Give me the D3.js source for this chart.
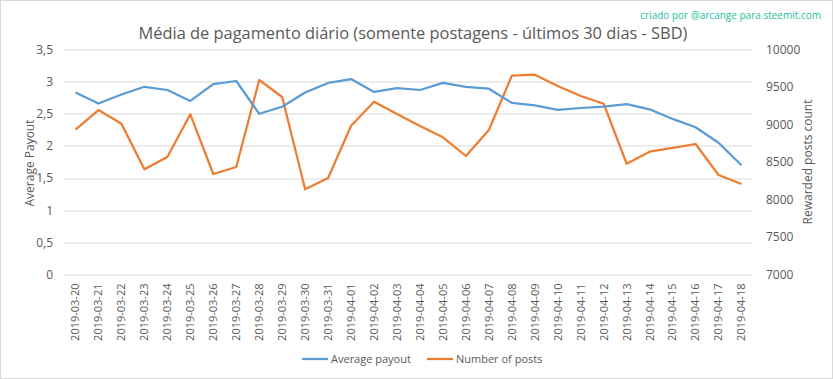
<!DOCTYPE html>
<html>
<head>
<meta charset="utf-8">
<script src="https://cdn.jsdelivr.net/npm/d3@7"></script>
<style>
  body { margin: 0; background: #fff; }
  text { font-family: "Open Sans", "Liberation Sans", sans-serif; fill: #595959; }
</style>
</head>
<body>
<svg id="paper"></svg>
<script>
// data
let dates = ["2019-03-20", "2019-03-21", "2019-03-22", "2019-03-23", "2019-03-24", "2019-03-25",
    "2019-03-26", "2019-03-27", "2019-03-28", "2019-03-29", "2019-03-30", "2019-03-31",
    "2019-04-01", "2019-04-02", "2019-04-03", "2019-04-04", "2019-04-05", "2019-04-06",
    "2019-04-07", "2019-04-08", "2019-04-09", "2019-04-10", "2019-04-11", "2019-04-12",
    "2019-04-13", "2019-04-14", "2019-04-15", "2019-04-16", "2019-04-17", "2019-04-18"];
let avgPayout = [2.83, 2.66, 2.80, 2.92, 2.87, 2.70, 2.96, 3.01, 2.50, 2.61, 2.83, 2.98,
    3.04, 2.84, 2.90, 2.87, 2.98, 2.92, 2.89, 2.67, 2.63, 2.56, 2.59, 2.61,
    2.65, 2.57, 2.42, 2.29, 2.05, 1.70];
let numPosts = [8931, 9193, 9011, 8403, 8567, 9136, 8340, 8433, 9593, 9367, 8136, 8287,
    8984, 9304, 9140, 8980, 8829, 8580, 8927, 9651, 9664, 9513, 9380, 9277,
    8477, 8637, 8687, 8740, 8327, 8207];
let leftTicks = [0, 0.5, 1, 1.5, 2, 2.5, 3, 3.5];
let rightTicks = [7000, 7500, 8000, 8500, 9000, 9500, 10000];
let seriesNames = ["Average payout", "Number of posts"];

let blue = "#5B9BD5", orange = "#ED7D31";
let W = 833, H = 379;
let margin = {top: 49.5, right: 80, bottom: 104.5, left: 64},
    width = W - margin.left - margin.right,
    height = H - margin.top - margin.bottom;

let svg = d3.select("#paper")
    .attr("width", W)
    .attr("height", H);

svg.append("rect")
    .attr("x", 0.5).attr("y", 0.5)
    .attr("width", W - 1).attr("height", H - 1)
    .attr("fill", "#fff")
    .attr("stroke", "#D9D9D9");

let g = svg.append("g")
    .attr("transform", "translate(" + margin.left + "," + margin.top + ")");

let x = d3.scaleBand().domain(dates).range([0, width]);
let yL = d3.scaleLinear().domain([0, 3.5]).range([height, 0]);
let yR = d3.scaleLinear().domain([7000, 10000]).range([height, 0]);

// gridlines
g.selectAll(".grid")
    .data(leftTicks)
    .enter()
    .append("line")
    .attr("x1", 0).attr("x2", width)
    .attr("y1", d => Math.round(yL(d)) + 0.5)
    .attr("y2", d => Math.round(yL(d)) + 0.5)
    .attr("stroke", "#D9D9D9");

// left axis
let leftAxis = g.append("g")
    .call(d3.axisLeft(yL).tickValues(leftTicks).tickSize(0).tickPadding(11)
        .tickFormat(d => String(d).replace(".", ",")));
leftAxis.select(".domain").remove();
leftAxis.selectAll("text").style("font-size", "12px").attr("fill", "#595959");

// right axis
let rightAxis = g.append("g")
    .attr("transform", "translate(" + width + ",0)")
    .call(d3.axisRight(yR).tickValues(rightTicks).tickSize(0).tickPadding(13)
        .tickFormat(d3.format("d")));
rightAxis.select(".domain").remove();
rightAxis.selectAll("text").style("font-size", "12px").attr("fill", "#595959");

// bottom axis
let bottomAxis = g.append("g")
    .attr("transform", "translate(0," + height + ")")
    .call(d3.axisBottom(x).tickSize(0));
bottomAxis.select(".domain").remove();
bottomAxis.selectAll("text")
    .style("font-size", "11px")
    .attr("fill", "#595959")
    .attr("transform", "rotate(-90)")
    .attr("text-anchor", "end")
    .attr("x", -9)
    .attr("y", 0)
    .attr("dy", "0.35em");

// lines
let lineL = d3.line()
    .x((d, i) => x(dates[i]) + x.bandwidth() / 2)
    .y(d => yL(d));
let lineR = d3.line()
    .x((d, i) => x(dates[i]) + x.bandwidth() / 2)
    .y(d => yR(d));

g.append("path")
    .datum(numPosts)
    .attr("d", lineR)
    .attr("fill", "none")
    .attr("stroke", orange)
    .attr("stroke-width", 2.25)
    .attr("stroke-linejoin", "round");

g.append("path")
    .datum(avgPayout)
    .attr("d", lineL)
    .attr("fill", "none")
    .attr("stroke", blue)
    .attr("stroke-width", 2.25)
    .attr("stroke-linejoin", "round");

// title
svg.append("text")
    .attr("x", 413)
    .attr("y", 39)
    .attr("text-anchor", "middle")
    .style("font-size", "16.4px")
    .text("Média de pagamento diário (somente postagens - últimos 30 dias - SBD)");

svg.append("text")
    .attr("x", 821)
    .attr("y", 19)
    .attr("text-anchor", "end")
    .style("font-size", "10px")
    .style("fill", "#1DBF9B")
    .text("criado por @arcange para steemit.com");

// axis titles
svg.append("text")
    .attr("transform", "translate(34,163) rotate(-90)")
    .attr("text-anchor", "middle")
    .style("font-size", "12px")
    .text("Average Payout");

svg.append("text")
    .attr("transform", "translate(812,162) rotate(-90)")
    .attr("text-anchor", "middle")
    .style("font-size", "12px")
    .text("Rewarded posts count");

// legend
let legend = svg.append("g");
let legendX = [302, 427];
seriesNames.forEach((name, i) => {
    legend.append("line")
        .attr("x1", legendX[i]).attr("x2", legendX[i] + 26)
        .attr("y1", 359).attr("y2", 359)
        .attr("stroke", i == 0 ? blue : orange)
        .attr("stroke-width", 2.25);
    legend.append("text")
        .attr("x", legendX[i] + 29)
        .attr("y", 359)
        .attr("dy", "0.35em")
        .style("font-size", "11px")
        .text(name);
});
</script>
</body>
</html>
